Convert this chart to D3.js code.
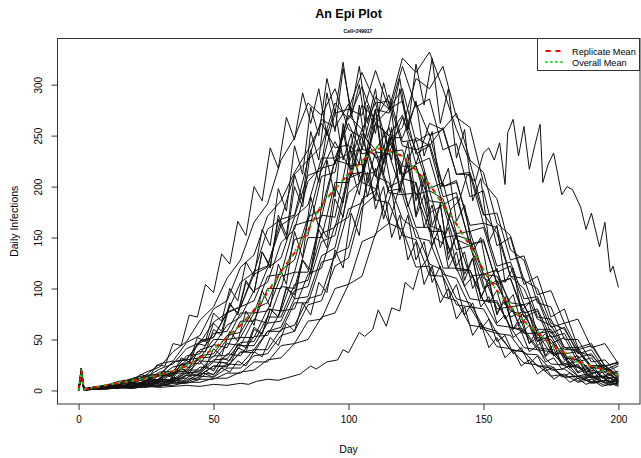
<!DOCTYPE html>
<html>
<head>
<meta charset="utf-8">
<script src="https://cdn.jsdelivr.net/npm/d3@7"></script>
<style>
  body { margin: 0; background: #fff; }
  text { font-family: "Liberation Sans", Arial, Helvetica, sans-serif; fill: #000; }
</style>
</head>
<body>
<svg id="chart"></svg>
<script>
// days sampled for the first group of replicates
const days = [0,1,2,5,10,15,20,25,30,35,40,45,50,55,60,65,70,75,80,85,90,95,100,
  105,110,115,120,125,130,135,140,145,150,155,160,165,170,175,180,185,190,195,200];

// daily infections per replicate
const repA = [0,20,1,3,5,9,11,18,23,38,48,69,82,110,128,165,183,226,248,282,270,296,256,248,210,204,168,158,124,118,90,86,62,58,40,38,24,22,13,14,8,10,6];
const repB = [0,17,0,2,4,7,12,15,26,29,47,54,80,88,121,133,171,186,214,236,262,238,241,204,198,164,158,121,122,92,88,64,62,43,41,27,25,14,16,8,11,5,7];
const repC = [0,22,2,3,5,6,11,13,21,26,41,47,67,76,106,116,158,168,212,226,266,258,281,237,231,194,192,150,147,114,110,82,80,56,54,36,35,20,21,12,13,7,9];
const repD = [0,15,1,2,3,7,8,14,15,28,30,49,52,77,82,117,122,162,171,211,216,244,220,222,187,184,152,148,113,112,84,82,60,56,40,38,24,24,13,14,7,10,5];
const repE = [0,19,0,3,4,7,8,15,16,28,31,47,52,76,82,114,121,168,172,226,240,282,266,298,262,250,208,204,162,156,120,118,88,86,62,58,40,38,24,23,13,14,9];
const repF = [0,14,1,2,5,5,10,10,18,19,34,36,56,58,82,88,120,130,170,182,228,228,262,232,236,196,198,160,160,120,120,90,88,64,62,42,40,26,25,14,14,8,10];
const repG = [0,21,2,2,4,6,7,12,14,23,26,40,44,64,72,98,106,145,158,205,220,272,276,312,282,284,240,236,196,188,148,142,110,104,78,74,52,50,32,30,18,18,11];
const repH = [0,16,1,2,3,5,5,10,11,19,21,34,36,54,57,80,86,118,128,170,178,226,222,256,228,232,192,194,156,156,118,118,88,88,62,60,42,40,26,24,14,14,8];
const repI = [0,13,2,1,3,4,7,8,16,17,30,32,50,50,76,76,112,114,162,166,218,222,270,256,282,234,236,192,196,150,152,112,114,80,82,56,56,36,36,22,22,12,13];
const repJ = [0,18,0,2,2,5,5,9,10,18,19,32,33,50,52,76,78,112,116,166,170,226,232,280,266,290,244,246,198,204,154,156,114,118,82,84,56,58,36,38,22,22,12];
const repK = [0,12,1,3,2,5,4,9,8,17,17,29,28,46,44,70,66,102,100,150,150,204,204,252,236,258,212,220,174,182,138,142,100,108,72,78,48,54,30,34,16,21,9];
const repL = [0,22,2,1,4,3,7,6,15,14,28,26,45,42,68,68,100,100,148,152,210,214,276,270,314,276,284,232,240,190,194,142,148,104,110,72,78,46,52,28,32,15,19];
const repM = [0,17,1,2,3,3,5,6,9,10,17,19,30,31,47,48,72,72,104,108,154,160,212,214,262,250,270,222,228,182,190,144,146,106,110,76,80,52,56,32,36,18,24];
const repN = [0,14,0,1,2,4,3,7,6,12,12,23,21,36,34,53,54,78,80,114,120,162,170,212,214,244,220,220,186,184,152,148,114,112,86,84,60,60,40,40,24,25,14];
const repO = [0,20,2,2,2,4,5,7,10,11,20,20,34,34,52,52,80,78,116,116,172,170,234,236,288,276,296,244,252,200,206,156,160,116,122,84,90,56,62,36,40,20,26];
const repP = [0,21,1,3,4,4,7,7,11,10,18,17,28,27,44,44,66,68,98,102,146,152,208,214,276,272,318,278,286,236,242,190,196,142,150,104,112,72,80,42,46,24,27];
const repQ = [0,16,2,1,3,3,6,5,9,8,15,15,24,23,38,37,58,58,86,86,126,130,178,184,234,232,268,236,242,200,204,162,164,122,126,90,92,62,66,40,44,24,28];
const repR = [0,19,1,2,2,3,4,6,5,10,9,17,16,26,25,40,40,60,64,90,94,134,140,188,196,248,248,282,250,256,212,214,172,174,128,132,94,98,66,70,42,46,26];
const repS = [0,22,1,2,3,4,4,6,8,9,15,15,24,24,37,40,58,62,90,92,132,140,194,206,262,276,326,312,332,296,256,224,174,154,112,100,70,64,42,38,24,24,14];
const repT = [0,18,2,1,2,3,3,5,4,8,8,14,13,22,22,34,36,54,58,84,88,122,130,180,192,246,258,306,296,318,268,258,204,188,138,128,86,82,50,50,28,30,16];
const repU = [0,15,0,2,1,3,2,5,4,7,7,11,11,17,17,28,28,44,46,68,70,100,104,146,152,200,206,248,240,258,212,212,164,160,112,110,72,70,42,42,22,24,12];
const repV = [0,17,1,1,2,2,3,3,5,5,8,8,12,12,18,20,30,32,46,50,72,76,104,112,154,164,210,222,262,256,272,226,214,164,152,108,100,66,60,38,34,22,16];

// second group, sampled every 3 days
const days3 = [0,1,2,5,8,11,14,17,20,23,26,29,32,35,38,41,44,47,50,53,56,59,62,65,68,71,74,77,80,83,86,89,92,
  95,98,101,104,107,110,113,116,119,122,125,128,131,134,137,140,143,146,149,152,155,158,161,164,167,170,173,176,179,182,
  185,188,191,194,197,200];
const repX1 = [0,18,1,3,2,6,4,10,8,16,13,25,24,46,44,74,72,104,96,134,124,166,152,200,186,238,218,268,246,292,262,296,250,
  276,226,252,204,228,178,200,150,172,128,146,104,122,86,100,70,82,54,66,42,52,32,40,24,30,16,22,11,16,8,12,6,9,4,7,4];
const repX2 = [0,21,2,1,4,2,5,4,8,6,12,10,16,14,26,26,46,44,66,58,86,74,106,96,136,120,172,152,212,186,254,226,292,
  254,316,274,318,262,296,236,272,212,244,186,214,162,182,134,152,114,130,92,106,76,88,60,68,46,52,33,41,25,28,17,21,12,14,8,11];
const repX3 = [0,17,1,3,1,4,2,5,4,7,5,10,8,13,10,18,14,24,19,32,29,46,42,62,56,80,72,100,94,128,118,164,150,
  200,184,240,222,280,252,302,270,306,256,284,230,254,198,218,166,182,136,150,108,120,84,94,66,74,48,56,36,42,26,32,18,23,12,17,9];
const repX4 = [0,13,1,1,3,2,5,3,8,5,12,8,16,12,22,16,31,23,41,34,58,48,78,64,98,82,124,104,156,130,190,160,226,
  190,262,214,280,226,276,212,258,194,232,172,208,150,184,128,154,108,130,90,110,74,92,60,74,46,60,34,46,26,34,18,25,13,18,9,13];
const repX5 = [0,20,2,2,1,3,2,4,3,5,4,7,5,9,7,12,10,16,13,22,18,29,24,38,33,52,44,66,58,86,74,106,96,
  138,120,174,152,214,186,256,226,296,256,320,280,326,262,296,228,256,186,208,146,162,106,120,78,86,54,60,34,40,22,26,14,18,9,13,6];
const repX6 = [0,16,0,1,3,2,5,4,8,5,11,9,16,15,26,22,38,38,60,54,84,76,108,96,136,122,168,148,200,180,236,204,256,
  222,256,210,238,190,218,168,196,148,172,128,146,106,122,90,104,74,86,60,70,48,54,36,42,26,34,19,23,13,17,9,12,7,10,5,8];
const repX7 = [0,14,1,2,1,3,2,4,3,6,4,8,6,11,8,14,11,19,15,28,25,42,38,60,55,80,72,102,90,128,114,158,140,
  188,170,218,192,238,210,240,198,222,180,204,160,182,140,160,122,136,100,114,86,98,70,80,56,64,44,50,34,38,24,30,18,20,12,15,9];
const repX8 = [0,19,1,1,3,2,5,4,8,6,12,9,18,16,32,28,52,48,76,68,100,88,126,112,158,142,198,176,240,212,278,250,306,
  272,322,268,300,248,276,222,248,196,222,170,192,142,162,120,136,102,112,82,92,66,74,52,58,38,44,28,32,21,24,14,16,10,13,8,11];

// the one late replicate, sampled more finely
const lateDays = [0,1,2,5,10,15,20,25,30,35,40,45,50,55,60,63,66,70,74,78,82,86,88,92,96,98,100,104,106,109,
  111,114,116,119,121,124,126,129,132,135,138,141,144,147,150,152,154,156,158,159,161,163,165,167,169,171,172,174,176,179,
  181,183,186,188,190,193,195,197,198,200];
const lateVals = [0,19,1,2,2,3,2,4,3,4,5,4,6,5,7,6,9,11,10,13,16,24,21,28,30,40,37,57,53,60,
  79,63,81,78,106,99,118,128,150,144,178,186,212,205,233,238,226,243,202,253,266,230,259,217,240,261,204,222,233,192,
  200,197,180,158,174,141,165,116,122,101];

const replicateMean = [0,20,1,2.5,5,7.5,9.5,12,15,19,24,32,41,52,64,78,96,117,135,157,182,198,212,225,238,235,230,216,202,183,163,142,118,98,82,68,57,45,37,28,24,20,14];
const overallMean = [0,21,1,2.6,5.2,7.3,9.8,12,15.5,19,24.5,31,41.5,51,65,78,97,116,136,156,183,197,213,224,239,234,231,215,203,182,164,141,119,97,83,67,58,44,38,27,25,19,15];

const xTicks = [0, 50, 100, 150, 200];
const yTicks = [0, 50, 100, 150, 200, 250, 300];
const legendLabels = ['Replicate Mean', 'Overall Mean'];

const groupA = [repA, repB, repC, repD, repE, repF, repG, repH, repI, repJ, repK,
  repL, repM, repN, repO, repP, repQ, repR, repS, repT, repU, repV];
const groupB = [repX1, repX2, repX3, repX4, repX5, repX6, repX7, repX8];

const W = 641, H = 458;
const plot = {left: 57, right: 640, top: 38.5, bottom: 404};

const svg = d3.select('#chart').attr('width', W).attr('height', H);

// R style: 4% padding on each side of the data range
const dayExt = d3.extent(days);
const dPad = (dayExt[1] - dayExt[0]) * 0.04;
const allVals = groupA.flat().concat(groupB.flat(), lateVals, replicateMean, overallMean);
const vExt = d3.extent(allVals);
const vPad = (vExt[1] - vExt[0]) * 0.04;

const x = d3.scaleLinear()
  .domain([dayExt[0] - dPad, dayExt[1] + dPad])
  .range([plot.left, plot.right]);
const y = d3.scaleLinear()
  .domain([vExt[0] - vPad, vExt[1] + vPad])
  .range([plot.bottom, plot.top]);

svg.append('clipPath').attr('id', 'clip')
  .append('rect')
  .attr('x', plot.left).attr('y', plot.top)
  .attr('width', plot.right - plot.left).attr('height', plot.bottom - plot.top);

const g = svg.append('g').attr('clip-path', 'url(#clip)');

const lineOn = xs => d3.line()
  .x((d, i) => x(xs[i]))
  .y(d => y(d));

const drawGroup = (series, xs, cls) => g.selectAll('path.' + cls)
  .data(series)
  .join('path')
  .attr('class', cls)
  .attr('d', lineOn(xs))
  .attr('fill', 'none')
  .attr('stroke', '#111')
  .attr('stroke-width', 1);

drawGroup(groupA, days, 'repa');
drawGroup(groupB, days3, 'repb');
drawGroup([lateVals], lateDays, 'late');

g.append('path')
  .attr('d', lineOn(days)(replicateMean))
  .attr('fill', 'none')
  .attr('stroke', '#ff0000')
  .attr('stroke-width', 2)
  .attr('stroke-dasharray', '5,5');

g.append('path')
  .attr('d', lineOn(days)(overallMean))
  .attr('fill', 'none')
  .attr('stroke', '#00dd00')
  .attr('stroke-width', 2)
  .attr('stroke-dasharray', '2,5');

// box
svg.append('rect')
  .attr('x', plot.left + 0.5).attr('y', plot.top)
  .attr('width', plot.right - plot.left - 0.5).attr('height', plot.bottom - plot.top)
  .attr('fill', 'none')
  .attr('stroke', '#333');

// axes
const xAxis = svg.append('g')
  .attr('transform', 'translate(0,' + plot.bottom + ')')
  .call(d3.axisBottom(x).tickValues(xTicks).tickSize(6).tickPadding(6).tickFormat(d3.format('d')));
xAxis.select('.domain').remove();
xAxis.selectAll('line').attr('stroke', '#333');
xAxis.selectAll('text').attr('font-size', 10).attr('fill', '#000');

const yAxis = svg.append('g')
  .attr('transform', 'translate(' + (plot.left + 0.5) + ',0)')
  .call(d3.axisLeft(y).tickValues(yTicks).tickSize(6).tickFormat(d3.format('d')));
yAxis.select('.domain').remove();
yAxis.selectAll('line').attr('stroke', '#333');
yAxis.selectAll('text')
  .attr('font-size', 10)
  .attr('fill', '#000')
  .attr('text-anchor', 'middle')
  .attr('x', 0).attr('y', -15.5).attr('dy', null)
  .attr('transform', 'rotate(-90)');

// titles
const midX = (plot.left + plot.right) / 2;
svg.append('text')
  .attr('x', midX).attr('y', 18)
  .attr('text-anchor', 'middle')
  .attr('font-size', 12.5).attr('font-weight', 'bold')
  .text('An Epi Plot');
svg.append('text')
  .attr('x', 358).attr('y', 33)
  .attr('text-anchor', 'middle')
  .attr('font-size', 5).attr('font-weight', 'bold')
  .text('Cell=249917');
svg.append('text')
  .attr('x', midX).attr('y', 453)
  .attr('text-anchor', 'middle')
  .attr('font-size', 10.5)
  .text('Day');
svg.append('text')
  .attr('transform', 'translate(18,' + ((plot.top + plot.bottom) / 2) + ') rotate(-90)')
  .attr('text-anchor', 'middle')
  .attr('font-size', 10.5)
  .text('Daily Infections');

// legend
const lg = svg.append('g').attr('transform', 'translate(537.5,38.5)');
lg.append('rect')
  .attr('width', 102).attr('height', 32)
  .attr('fill', '#fff').attr('stroke', '#333');
const legendStyles = [
  {color: '#ff0000', dash: '5,5'},
  {color: '#00dd00', dash: '2,3'}
];
legendLabels.forEach((label, i) => {
  const ly = 12.5 + i * 11;
  lg.append('line')
    .attr('x1', 8).attr('x2', 25).attr('y1', ly).attr('y2', ly)
    .attr('stroke', legendStyles[i].color)
    .attr('stroke-width', 2)
    .attr('stroke-dasharray', legendStyles[i].dash);
  lg.append('text')
    .attr('x', 34.5).attr('y', ly + 3.5)
    .attr('font-size', 9.2)
    .text(label);
});
</script>
</body>
</html>
